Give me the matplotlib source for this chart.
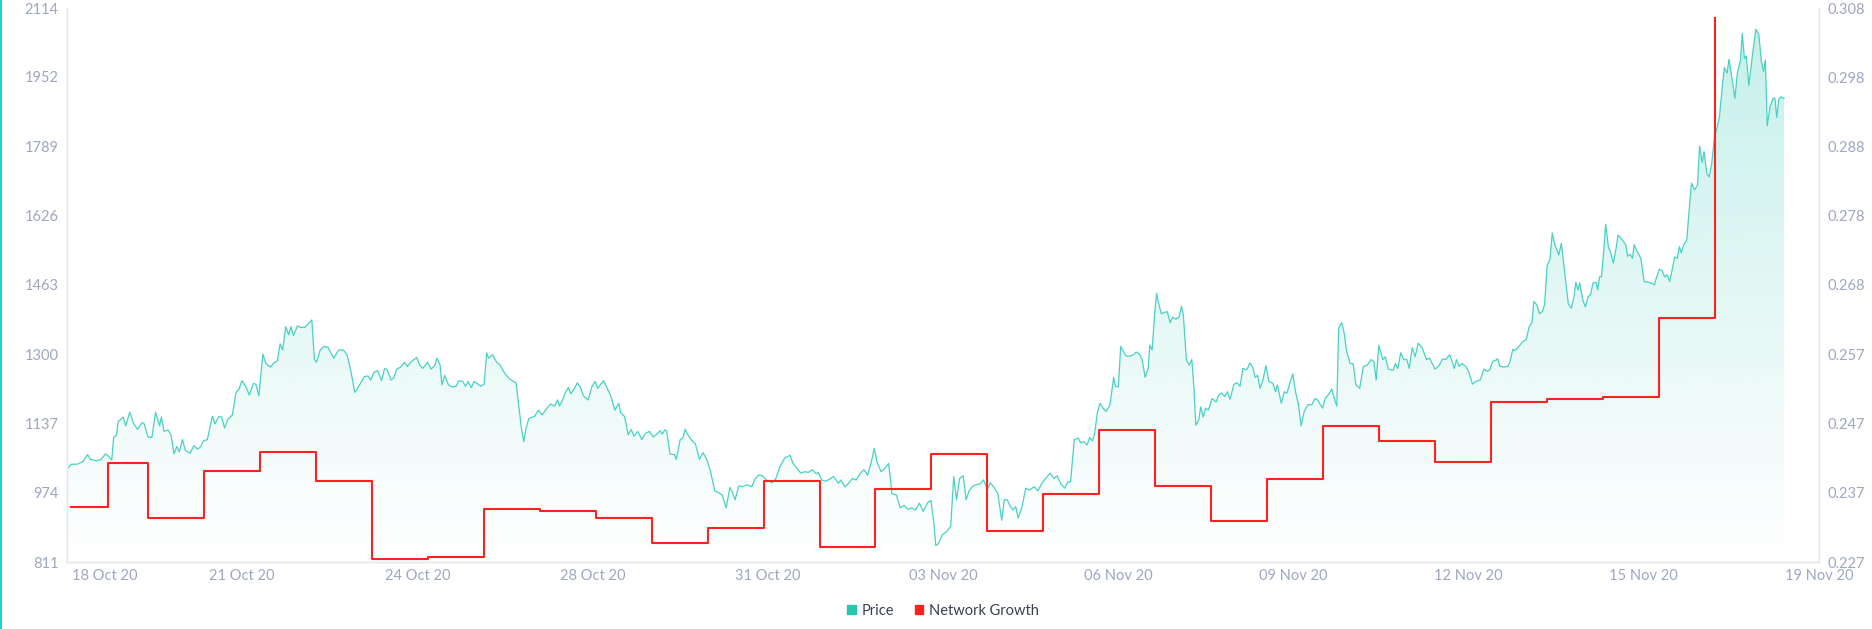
import matplotlib
matplotlib.use('Agg')
import matplotlib.pyplot as plt
import matplotlib.dates as mdates
from matplotlib.patches import Patch, Rectangle
from matplotlib.transforms import ScaledTranslation
import numpy as np
import pandas as pd

plt.rcParams['font.family'] = ['Lato', 'DejaVu Sans']

# time window of the chart (UTC)
start = pd.Timestamp('2020-10-18 13:15')
end = start + pd.Timedelta(hours=751.4)

# network growth, daily values (left axis)
ng_dates = ['2020-10-18 15:00', '2020-10-19 07:00', '2020-10-20 00:00', '2020-10-21 00:00', '2020-10-22 00:00',
            '2020-10-23 00:00', '2020-10-24 00:00', '2020-10-25 00:00', '2020-10-26 00:00', '2020-10-27 00:00',
            '2020-10-28 00:00', '2020-10-29 00:00', '2020-10-30 00:00', '2020-10-31 00:00', '2020-11-01 00:00',
            '2020-11-02 00:00', '2020-11-03 00:00', '2020-11-04 00:00', '2020-11-05 00:00', '2020-11-06 00:00',
            '2020-11-07 00:00', '2020-11-08 00:00', '2020-11-09 00:00', '2020-11-10 00:00', '2020-11-11 00:00',
            '2020-11-12 00:00', '2020-11-13 00:00', '2020-11-14 00:00', '2020-11-15 00:00', '2020-11-16 00:00',
            '2020-11-17 00:00']
ng_values = [940, 1044, 915, 1025, 1070, 1002, 818, 823, 936, 932, 915,
             856, 890, 1001, 847, 982, 1065, 884, 971, 1121, 990, 908, 1006,
             1131, 1096, 1046, 1187, 1194, 1198, 1385, 2090]

# price (right axis): hours after start, price in USD
price_points = [
    (0, 0.2406), (1.9, 0.2413), (4.4, 0.2413), (6.9, 0.2417), (8.8, 0.2427), (10.1, 0.2420),
    (12.6, 0.2418), (14.7, 0.2420), (16.4, 0.2428), (18.0, 0.2424), (19.2, 0.2419), (20.0, 0.2452),
    (21.3, 0.2456), (21.9, 0.2475), (24.1, 0.2482), (25.2, 0.2469), (26.9, 0.2489), (28.5, 0.2473),
    (30.2, 0.2464), (32.3, 0.2474), (33.1, 0.2472), (34.7, 0.2453), (36.4, 0.2452), (38.0, 0.2489),
    (39.7, 0.2469), (40.5, 0.2482), (41.6, 0.2461), (43.3, 0.2463), (44.6, 0.2456), (45.9, 0.2428),
    (47.1, 0.2439), (48.2, 0.2431), (49.5, 0.2449), (50.8, 0.2433), (52.8, 0.2429), (54.4, 0.2440),
    (56.1, 0.2435), (57.4, 0.2439), (58.5, 0.2447), (60.2, 0.2449), (62.3, 0.2483), (63.5, 0.2472),
    (65.1, 0.2483), (66.3, 0.2482), (67.6, 0.2466), (68.9, 0.2478), (70.9, 0.2485), (72.5, 0.2518),
    (73.8, 0.2523), (75.0, 0.2535), (76.6, 0.2527), (78.2, 0.2514), (79.9, 0.2531), (81.0, 0.2530),
    (82.3, 0.2513), (84.0, 0.2574), (85.3, 0.2560), (87.3, 0.2555), (88.6, 0.2561), (90.2, 0.2564),
    (91.4, 0.2589), (92.5, 0.2580), (93.8, 0.2614), (95.1, 0.2602), (96.0, 0.2614), (97.1, 0.2601),
    (98.8, 0.2615), (100.4, 0.2613), (102.0, 0.2613), (103.7, 0.2619), (105.0, 0.2624), (106.1, 0.2566),
    (107.0, 0.2562), (108.6, 0.2580), (110.2, 0.2585), (111.9, 0.2584), (114.4, 0.2568), (116.5, 0.2580),
    (118.5, 0.2580), (120.1, 0.2573), (121.7, 0.2550), (123.4, 0.2518), (125.0, 0.2526), (127.5, 0.2541),
    (129.1, 0.2542), (130.3, 0.2536), (131.6, 0.2547), (133.2, 0.2550), (134.9, 0.2535), (136.2, 0.2553),
    (137.3, 0.2551), (139.0, 0.2536), (140.1, 0.2539), (141.4, 0.2552), (143.1, 0.2555), (144.7, 0.2562),
    (146.0, 0.2556), (147.7, 0.2563), (150.0, 0.2569), (151.3, 0.2558), (152.6, 0.2553), (154.6, 0.2562),
    (156.2, 0.2552), (157.8, 0.2558), (158.7, 0.2568), (160.0, 0.2558), (160.8, 0.2529), (162.0, 0.2543),
    (163.6, 0.2529), (165.2, 0.2526), (166.9, 0.2527), (168.0, 0.2535), (169.7, 0.2534), (171.0, 0.2527),
    (172.0, 0.2534), (173.4, 0.2525), (174.6, 0.2534), (175.9, 0.2531), (177.5, 0.2527), (178.9, 0.2530),
    (180.0, 0.2576), (180.8, 0.2568), (182.5, 0.2573), (184.1, 0.2563), (185.7, 0.2558), (187.7, 0.2546),
    (189.4, 0.2539), (191.0, 0.2535), (192.6, 0.2532), (194.0, 0.2492), (194.8, 0.2468), (195.9, 0.2446),
    (196.9, 0.2466), (198.1, 0.2480), (200.5, 0.2483), (202.2, 0.2492), (203.8, 0.2485), (205.4, 0.2493),
    (207.4, 0.2501), (209.1, 0.2498), (210.4, 0.2507), (211.2, 0.2498), (212.8, 0.2509), (213.7, 0.2518),
    (215.0, 0.2525), (216.1, 0.2516), (217.8, 0.2525), (218.9, 0.2532), (220.2, 0.2525), (221.5, 0.2513),
    (223.5, 0.2507), (225.1, 0.2526), (226.5, 0.2534), (227.6, 0.2524), (228.7, 0.2529), (230.1, 0.2535),
    (231.7, 0.2524), (233.3, 0.2512), (235.0, 0.2492), (236.6, 0.2502), (237.5, 0.2488), (239.1, 0.2483),
    (240.7, 0.2456), (241.9, 0.2464), (243.2, 0.2454), (244.8, 0.2461), (246.5, 0.2449), (248.1, 0.2458),
    (249.8, 0.2461), (251.4, 0.2453), (253.1, 0.2457), (254.3, 0.2462), (255.3, 0.2457), (256.4, 0.2463),
    (257.2, 0.2462), (258.6, 0.2428), (260.5, 0.2427), (261.3, 0.2420), (263.0, 0.2449), (264.1, 0.2451),
    (265.1, 0.2464), (266.3, 0.2456), (267.9, 0.2448), (269.5, 0.2443), (271.2, 0.2420), (272.8, 0.2430),
    (274.5, 0.2419), (276.1, 0.2401), (277.8, 0.2374), (280.2, 0.2370), (281.0, 0.2368), (282.7, 0.2349),
    (284.3, 0.2379), (285.1, 0.2374), (286.5, 0.2361), (288.1, 0.2381), (289.7, 0.2380), (291.7, 0.2383),
    (293.7, 0.2380), (295.0, 0.2391), (296.6, 0.2397), (298.3, 0.2396), (299.9, 0.2390), (302.4, 0.2386),
    (304.0, 0.2392), (305.7, 0.2409), (307.8, 0.2422), (310.1, 0.2426), (311.4, 0.2414), (313.0, 0.2407),
    (314.7, 0.2400), (316.3, 0.2402), (318.0, 0.2401), (319.6, 0.2405), (321.3, 0.2399), (322.1, 0.2401),
    (323.7, 0.2390), (325.4, 0.2388), (327.0, 0.2391), (328.6, 0.2395), (329.8, 0.2390), (330.8, 0.2385),
    (331.9, 0.2390), (333.6, 0.2380), (335.2, 0.2385), (336.8, 0.2392), (338.5, 0.2390), (340.1, 0.2399),
    (341.8, 0.2405), (343.4, 0.2397), (345.0, 0.2417), (346.2, 0.2436), (347.5, 0.2415), (349.2, 0.2402),
    (350.8, 0.2407), (352.4, 0.2414), (353.8, 0.2370), (355.7, 0.2368), (357.4, 0.2349), (359.0, 0.2353),
    (360.6, 0.2347), (362.3, 0.2349), (363.9, 0.2346), (365.6, 0.2356), (367.2, 0.2344), (369.2, 0.2357),
    (370.5, 0.2360), (371.8, 0.2327), (372.6, 0.2294), (373.8, 0.2297), (375.4, 0.2310), (377.1, 0.2314),
    (379.0, 0.2322), (380.3, 0.2395), (381.5, 0.2361), (382.8, 0.2392), (384.4, 0.2396), (385.6, 0.2361),
    (386.9, 0.2374), (388.2, 0.2380), (389.9, 0.2383), (391.5, 0.2384), (393.1, 0.2390), (394.8, 0.2376),
    (395.9, 0.2386), (397.6, 0.2379), (399.2, 0.2370), (400.9, 0.2331), (402.0, 0.2361), (403.3, 0.2361),
    (404.6, 0.2351), (405.8, 0.2346), (406.9, 0.2351), (407.9, 0.2334), (409.6, 0.2351), (411.2, 0.2378),
    (412.8, 0.2375), (414.8, 0.2380), (416.4, 0.2374), (418.1, 0.2385), (419.7, 0.2392), (421.7, 0.2400),
    (423.3, 0.2392), (424.6, 0.2396), (426.3, 0.2384), (427.9, 0.2378), (429.2, 0.2387), (430.4, 0.2387),
    (432.0, 0.2449), (433.7, 0.2451), (434.8, 0.2444), (436.1, 0.2446), (437.5, 0.2441), (438.6, 0.2452),
    (439.8, 0.2447), (440.7, 0.2457), (441.9, 0.2488), (443.0, 0.2502), (444.3, 0.2495), (445.7, 0.2490),
    (447.3, 0.2500), (448.9, 0.2540), (449.6, 0.2527), (450.9, 0.2526), (451.9, 0.2585), (452.9, 0.2579),
    (454.2, 0.2571), (455.8, 0.2571), (457.5, 0.2573), (458.5, 0.2577), (459.9, 0.2574), (461.1, 0.2566),
    (462.4, 0.2540), (463.7, 0.2553), (464.4, 0.2587), (465.4, 0.2580), (466.5, 0.2634), (467.3, 0.2663),
    (468.1, 0.2649), (469.3, 0.2633), (470.6, 0.2635), (471.9, 0.2636), (473.1, 0.2620), (474.2, 0.2628),
    (475.5, 0.2625), (476.9, 0.2628), (478.0, 0.2644), (478.8, 0.2630), (480.1, 0.2565), (481.3, 0.2558),
    (482.4, 0.2566), (483.4, 0.2521), (484.1, 0.2470), (485.4, 0.2478), (486.2, 0.2497), (487.3, 0.2482),
    (488.3, 0.2495), (489.5, 0.2492), (491.1, 0.2509), (492.8, 0.2504), (493.9, 0.2514), (495.2, 0.2517),
    (496.5, 0.2512), (497.7, 0.2519), (498.8, 0.2508), (500.5, 0.2530), (501.8, 0.2532), (503.1, 0.2527),
    (504.3, 0.2553), (505.7, 0.2551), (506.3, 0.2553), (507.3, 0.2561), (508.5, 0.2555), (509.6, 0.2540),
    (510.6, 0.2543), (511.7, 0.2524), (512.9, 0.2536), (514.2, 0.2557), (515.5, 0.2534), (517.2, 0.2531),
    (518.3, 0.2519), (519.1, 0.2529), (520.8, 0.2502), (522.1, 0.2519), (523.2, 0.2517), (524.4, 0.2531),
    (525.7, 0.2545), (527.0, 0.2517), (528.1, 0.2501), (529.3, 0.2469), (530.6, 0.2490), (532.2, 0.2500),
    (533.9, 0.2500), (535.2, 0.2509), (536.4, 0.2507), (537.2, 0.2502), (538.5, 0.2495), (539.6, 0.2509),
    (541.3, 0.2516), (542.4, 0.2523), (543.7, 0.2507), (544.6, 0.2498), (545.4, 0.2612), (546.7, 0.2620),
    (547.8, 0.2604), (548.7, 0.2580), (550.3, 0.2560), (551.6, 0.2560), (552.8, 0.2529), (554.4, 0.2524),
    (556.0, 0.2556), (557.7, 0.2558), (559.3, 0.2566), (560.5, 0.2563), (561.5, 0.2536), (562.6, 0.2587),
    (564.3, 0.2566), (565.4, 0.2570), (566.7, 0.2552), (568.7, 0.2550), (569.7, 0.2560), (570.8, 0.2553),
    (572.0, 0.2576), (573.3, 0.2566), (574.6, 0.2566), (575.7, 0.2553), (576.9, 0.2583), (578.2, 0.2570),
    (579.5, 0.2590), (581.2, 0.2583), (583.1, 0.2566), (584.4, 0.2568), (586.7, 0.2552), (588.4, 0.2557),
    (590.0, 0.2567), (591.3, 0.2566), (593.0, 0.2573), (593.8, 0.2566), (595.0, 0.2553), (595.9, 0.2566),
    (597.1, 0.2556), (598.2, 0.2560), (599.9, 0.2556), (601.2, 0.2548), (602.0, 0.2539), (602.8, 0.2530),
    (604.1, 0.2534), (606.1, 0.2536), (607.7, 0.2552), (609.1, 0.2549), (610.2, 0.2551), (611.4, 0.2563),
    (612.7, 0.2565), (613.5, 0.2567), (614.6, 0.2556), (616.3, 0.2555), (617.9, 0.2556), (618.7, 0.2561),
    (620.1, 0.2581), (620.9, 0.2579), (622.5, 0.2584), (624.2, 0.2592), (625.8, 0.2595), (627.1, 0.2614),
    (628.3, 0.2620), (629.1, 0.2651), (630.4, 0.2646), (631.5, 0.2633), (632.7, 0.2636), (633.7, 0.2646),
    (634.8, 0.2704), (636.0, 0.2712), (637.0, 0.2751), (638.1, 0.2734), (639.8, 0.2719), (640.9, 0.2736),
    (642.2, 0.2697), (643.9, 0.2647), (645.2, 0.2641), (646.3, 0.2658), (647.1, 0.2679), (648.0, 0.2668),
    (648.8, 0.2678), (650.1, 0.2653), (651.2, 0.2643), (652.4, 0.2658), (653.4, 0.2661), (654.5, 0.2678),
    (655.7, 0.2679), (656.5, 0.2668), (657.3, 0.2687), (658.1, 0.2687), (659.1, 0.2726), (659.9, 0.2764),
    (661.1, 0.2730), (661.9, 0.2724), (663.2, 0.2707), (664.4, 0.2729), (665.2, 0.2748), (666.8, 0.2742),
    (668.5, 0.2734), (669.3, 0.2717), (670.4, 0.2720), (671.4, 0.2714), (672.1, 0.2734), (673.4, 0.2724),
    (675.0, 0.2714), (676.4, 0.2680), (678.3, 0.2679), (680.0, 0.2677), (680.8, 0.2675), (681.6, 0.2685),
    (682.9, 0.2698), (684.1, 0.2696), (685.2, 0.2687), (686.2, 0.2690), (687.4, 0.2680), (688.2, 0.2694),
    (689.5, 0.2716), (690.6, 0.2714), (691.5, 0.2731), (692.3, 0.2722), (693.4, 0.2734), (694.7, 0.2741),
    (695.6, 0.2780), (696.7, 0.2824), (698.0, 0.2814), (699.3, 0.2821), (700.2, 0.2878), (701.3, 0.2854),
    (702.1, 0.2870), (703.3, 0.2838), (704.3, 0.2833), (705.4, 0.2853), (706.6, 0.2892), (707.9, 0.2908),
    (708.7, 0.2921), (709.8, 0.2961), (710.8, 0.2993), (712.0, 0.2985), (712.8, 0.3005), (713.6, 0.2988),
    (714.4, 0.2970), (715.3, 0.2948), (716.4, 0.2985), (717.7, 0.3004), (718.5, 0.3043), (719.4, 0.3006),
    (720.2, 0.3010), (721.3, 0.2967), (722.6, 0.3004), (724.3, 0.3049), (725.6, 0.3041), (726.7, 0.3002),
    (727.6, 0.2987), (728.4, 0.3004), (729.2, 0.2908), (730.4, 0.2936), (731.7, 0.2948), (732.5, 0.2948),
    (733.3, 0.2920), (734.1, 0.2946), (735.0, 0.2950), (736.4, 0.2948),
]
price_hours = [h for h, p in price_points]
price_values = [p for h, p in price_points]

x_labels = ['18 Oct 20', '21 Oct 20', '24 Oct 20', '28 Oct 20', '31 Oct 20', '03 Nov 20',
            '06 Nov 20', '09 Nov 20', '12 Nov 20', '15 Nov 20', '19 Nov 20']
left_ticks = [811, 974, 1137, 1300, 1463, 1626, 1789, 1952, 2114]
right_labels = ['0.227', '0.237', '0.247', '0.257', '0.268', '0.278', '0.288', '0.298', '0.308']

teal = '#26c6b0'
line_teal = '#48d2c3'
red = '#ff2020'
label_col = '#9ea7c0'
spine_col = '#e6e8f0'

W, H = 1872, 629
fig = plt.figure(figsize=(W / 100, H / 100), dpi=100)
ax = fig.add_axes([67 / W, 1 - 562 / H, 1752 / W, 554 / H])
ax2 = ax.twinx()

price_t = start + pd.to_timedelta(price_hours, unit='h')
xnum = mdates.date2num(price_t)
x0, x1 = mdates.date2num(start), mdates.date2num(end)

# price area with vertical gradient
poly = ax2.fill_between(xnum, price_values, 0.227, color='none', lw=0)
rgba = np.zeros((256, 1, 4))
rgba[:, 0, :3] = matplotlib.colors.to_rgb(teal)
rgba[:, 0, 3] = np.linspace(0.27, 0.0, 256)
im = ax2.imshow(rgba, extent=[x0, x1, 0.227, 0.308], aspect='auto', origin='upper', zorder=0)
im.set_clip_path(poly.get_paths()[0], transform=ax2.transData)
ax2.plot(xnum, price_values, color=line_teal, lw=0.9, zorder=2)

ng_x = mdates.date2num(pd.to_datetime(ng_dates, format='%Y-%m-%d %H:%M'))
ax.step(ng_x, ng_values, where='post', color=red, lw=1.5)
ax.set_zorder(ax2.get_zorder() + 1)
ax.patch.set_visible(False)

ax.set_xlim(x0, x1)
ax.set_ylim(811, 2114)
ax2.set_ylim(0.227, 0.308)

ax.set_yticks(left_ticks)
ax.set_yticklabels([str(v) for v in left_ticks])
ax2.set_yticks(np.linspace(0.227, 0.308, 9))
ax2.set_yticklabels(right_labels)
ax.set_xticks(np.linspace(x0, x1, 11))
ax.set_xticklabels(x_labels)

for a in (ax, ax2):
    a.tick_params(length=0, labelsize=10.5, labelcolor=label_col)
    a.spines['top'].set_visible(False)
    for s in ('left', 'right', 'bottom'):
        a.spines[s].set_color(spine_col)
        a.spines[s].set_linewidth(1)
ax.tick_params(axis='y', pad=6)
ax2.tick_params(axis='y', pad=6)
ax.tick_params(axis='x', pad=5)

first = ax.get_xticklabels()[0]
first.set_ha('left')
first.set_transform(first.get_transform() + ScaledTranslation(5 / 100, 0, fig.dpi_scale_trans))

handles = [Patch(color=teal), Patch(color=red)]
fig.legend(handles, ['Price', 'Network Growth'], loc='center', bbox_to_anchor=(943 / W, 1 - 611 / H),
           ncol=2, frameon=False, fontsize=10.5, handlelength=0.6, handleheight=0.6,
           handletextpad=0.4, columnspacing=1.4, labelcolor='#3a3f50')

# cyan frame edge on the left
fig.add_artist(Rectangle((0, 0), 2 / W, 1, transform=fig.transFigure, color='#1fd0dc', lw=0))

fig.savefig('out.png', dpi=100)
